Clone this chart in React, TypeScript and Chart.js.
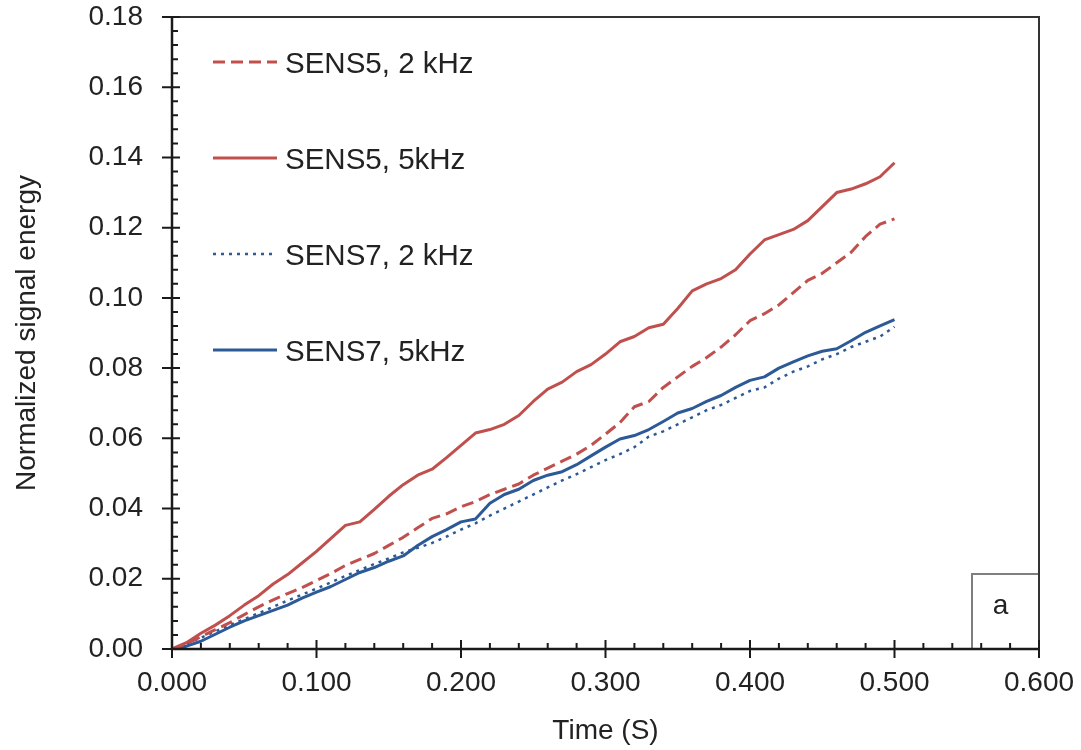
import React, { useEffect, useRef } from 'react';
import { Chart, registerables } from 'chart.js';

Chart.register(...registerables);

// ---------- data ----------
const timeS = [
  0, 0.01, 0.02, 0.03, 0.04, 0.05, 0.06, 0.07, 0.08, 0.09,
  0.1, 0.11, 0.12, 0.13, 0.14, 0.15, 0.16, 0.17, 0.18, 0.19,
  0.2, 0.21, 0.22, 0.23, 0.24, 0.25, 0.26, 0.27, 0.28, 0.29,
  0.3, 0.31, 0.32, 0.33, 0.34, 0.35, 0.36, 0.37, 0.38, 0.39,
  0.4, 0.41, 0.42, 0.43, 0.44, 0.45, 0.46, 0.47, 0.48, 0.49, 0.5,
];

const sens5_2kHz = [
  0, 0.0015, 0.0035, 0.0055, 0.0075, 0.0098, 0.012, 0.014, 0.0158, 0.0175,
  0.0195, 0.0215, 0.0238, 0.0255, 0.0272, 0.0295, 0.0318, 0.0345, 0.0372, 0.0385,
  0.0405, 0.042, 0.044, 0.0455, 0.047, 0.0495, 0.0515, 0.0535, 0.0555, 0.058,
  0.0612, 0.0645, 0.069, 0.0705, 0.0745, 0.0775, 0.0805, 0.083, 0.086, 0.0895,
  0.0935, 0.0955, 0.098, 0.1015, 0.105, 0.107, 0.11, 0.113, 0.1175, 0.121, 0.1225,
];

const sens5_5kHz = [
  0, 0.0018, 0.0045, 0.0068, 0.0095, 0.0125, 0.0152, 0.0185, 0.0212, 0.0245,
  0.0278, 0.0315, 0.0352, 0.0362, 0.0398, 0.0435, 0.0468, 0.0495, 0.0512, 0.0545,
  0.058, 0.0615, 0.0625, 0.064, 0.0665, 0.0705, 0.074, 0.076, 0.079, 0.081,
  0.084, 0.0875, 0.089, 0.0915, 0.0925, 0.097, 0.102, 0.104, 0.1055, 0.108,
  0.1125, 0.1165, 0.118, 0.1195, 0.122, 0.126, 0.13, 0.131, 0.1325, 0.1345, 0.1385,
];

const sens7_2kHz = [
  0, 0.0015, 0.0032, 0.005, 0.0068, 0.0085, 0.0102, 0.012, 0.0138, 0.0155,
  0.0172, 0.019, 0.0208, 0.0225, 0.0242, 0.0258, 0.0275, 0.0288, 0.0302, 0.032,
  0.034, 0.0358, 0.038, 0.04, 0.042, 0.044, 0.046, 0.048, 0.0498, 0.0518,
  0.0538, 0.0555, 0.0575, 0.0605, 0.062, 0.064, 0.066, 0.068, 0.0695, 0.0715,
  0.0735, 0.0745, 0.077, 0.079, 0.0805, 0.0825, 0.084, 0.086, 0.0875, 0.089, 0.0918,
];

const sens7_5kHz = [
  0, 0.0008, 0.0022, 0.0042, 0.0062, 0.008, 0.0095, 0.011, 0.0125, 0.0145,
  0.0162, 0.0178, 0.0198, 0.0218, 0.0232, 0.025, 0.0265, 0.0295, 0.032, 0.034,
  0.0362, 0.037, 0.0415, 0.044, 0.0455, 0.048, 0.0495, 0.0505, 0.0525, 0.055,
  0.0575, 0.0598, 0.0608, 0.0625, 0.0648, 0.0672, 0.0685, 0.0705, 0.0722, 0.0745,
  0.0765, 0.0775, 0.08, 0.0818, 0.0835, 0.0848, 0.0855, 0.0878, 0.0902, 0.092, 0.0938,
];

const seriesLabels = ['SENS5, 2 kHz', 'SENS5, 5kHz', 'SENS7, 2 kHz', 'SENS7, 5kHz'];
const xAxisTitle = 'Time (S)';
const yAxisTitle = 'Normalized signal energy';
const panelLabel = 'a';

const xRange = [0, 0.6];
const yRange = [0, 0.18];
const xStep = 0.1;
const yStep = 0.02;

// ---------- styles ----------
const FONT = "'Liberation Sans', Arial, Helvetica, sans-serif";
const TEXT = '#222222';
const RED = '#C0504D';
const BLUE = '#2C5A96';

const toPoints = (ys: number[]) => ys.map((y, i) => ({ x: timeS[i], y }));

const decorPlugin = {
  id: 'decor',
  afterDraw(chart: any) {
    const { ctx, chartArea: a, scales } = chart;
    const xs = scales.x;
    const ys = scales.y;
    ctx.save();

    // panel label box
    const bw = 67;
    const bh = 75;
    ctx.strokeStyle = '#7f7f7f';
    ctx.lineWidth = 2;
    ctx.strokeRect(a.right - bw, a.bottom - bh, bw, bh);
    ctx.fillStyle = TEXT;
    ctx.font = `28px ${FONT}`;
    ctx.textAlign = 'center';
    ctx.textBaseline = 'alphabetic';
    ctx.fillText(panelLabel, a.right - bw / 2 - 5, a.bottom - 35);

    // frame (top/right)
    ctx.strokeStyle = '#333333';
    ctx.lineWidth = 2;
    ctx.beginPath();
    ctx.moveTo(a.left, a.top);
    ctx.lineTo(a.right, a.top);
    ctx.lineTo(a.right, a.bottom);
    ctx.stroke();

    // axes (left/bottom)
    ctx.strokeStyle = '#1a1a1a';
    ctx.lineWidth = 2.5;
    ctx.beginPath();
    ctx.moveTo(a.left, a.top);
    ctx.lineTo(a.left, a.bottom);
    ctx.lineTo(a.right, a.bottom);
    ctx.stroke();

    // ticks
    ctx.lineWidth = 2;
    ctx.beginPath();
    const yMaj = ys.ticks.map((t: any) => t.value);
    yMaj.forEach((v: number, i: number) => {
      const p = ys.getPixelForValue(v);
      ctx.moveTo(a.left - 10, p);
      ctx.lineTo(a.left + 8, p);
      if (i < yMaj.length - 1) {
        const step = (yMaj[i + 1] - v) / 5;
        for (let k = 1; k < 5; k++) {
          const q = ys.getPixelForValue(v + step * k);
          ctx.moveTo(a.left, q);
          ctx.lineTo(a.left + 6, q);
        }
      }
    });
    const xMaj = xs.ticks.map((t: any) => t.value);
    xMaj.forEach((v: number, i: number) => {
      const p = xs.getPixelForValue(v);
      ctx.moveTo(p, a.bottom + 9);
      ctx.lineTo(p, a.bottom - 9);
      if (i < xMaj.length - 1) {
        const step = (xMaj[i + 1] - v) / 5;
        for (let k = 1; k < 5; k++) {
          const q = xs.getPixelForValue(v + step * k);
          ctx.moveTo(q, a.bottom);
          ctx.lineTo(q, a.bottom - 6);
        }
      }
    });
    ctx.stroke();

    // legend inside plot
    ctx.font = `29.5px ${FONT}`;
    ctx.textAlign = 'left';
    ctx.textBaseline = 'alphabetic';
    chart.data.datasets.forEach((ds: any, i: number) => {
      const cy = 62 + 96 * i;
      ctx.save();
      ctx.strokeStyle = ds.borderColor;
      ctx.lineWidth = ds.borderWidth;
      ctx.setLineDash(ds.borderDash || []);
      ctx.beginPath();
      ctx.moveTo(213, cy);
      ctx.lineTo(277, cy);
      ctx.stroke();
      ctx.restore();
      ctx.fillStyle = TEXT;
      ctx.fillText(ds.label, 285, cy + 10.5);
    });

    ctx.restore();
  },
};

export default function App() {
  const ref = useRef<HTMLCanvasElement | null>(null);

  useEffect(() => {
    if (!ref.current) return;
    const chart = new Chart(ref.current, {
      type: 'line',
      data: {
        datasets: [
          {
            label: seriesLabels[0],
            data: toPoints(sens5_2kHz),
            borderColor: RED,
            borderWidth: 3,
            borderDash: [12, 6],
            pointRadius: 0,
          },
          {
            label: seriesLabels[1],
            data: toPoints(sens5_5kHz),
            borderColor: RED,
            borderWidth: 3,
            pointRadius: 0,
          },
          {
            label: seriesLabels[2],
            data: toPoints(sens7_2kHz),
            borderColor: BLUE,
            borderWidth: 2.5,
            borderDash: [3, 5],
            pointRadius: 0,
          },
          {
            label: seriesLabels[3],
            data: toPoints(sens7_5kHz),
            borderColor: BLUE,
            borderWidth: 3,
            pointRadius: 0,
          },
        ],
      },
      options: {
        responsive: false,
        animation: false,
        layout: { padding: { top: 17, right: 42, bottom: 0, left: 0 } },
        plugins: { legend: { display: false }, tooltip: { enabled: false } },
        elements: { line: { tension: 0, borderJoinStyle: 'round' } },
        scales: {
          x: {
            type: 'linear',
            min: xRange[0],
            max: xRange[1],
            grid: { display: false, drawTicks: false },
            border: { display: false },
            ticks: {
              stepSize: xStep,
              padding: 17,
              color: TEXT,
              font: { family: FONT, size: 28 },
              maxRotation: 0,
              callback: (v: any) => Number(v).toFixed(3),
            },
            title: {
              display: true,
              text: xAxisTitle,
              color: TEXT,
              font: { family: FONT, size: 28 },
              padding: { top: 2, bottom: 2 },
            },
            afterFit: (s: any) => {
              s.height = 101;
              s.paddingLeft = 0;
              s.paddingRight = 0;
            },
          },
          y: {
            type: 'linear',
            min: yRange[0],
            max: yRange[1],
            grid: { display: false, drawTicks: false },
            border: { display: false },
            ticks: {
              stepSize: yStep,
              padding: 29,
              color: TEXT,
              font: { family: FONT, size: 28 },
              callback: (v: any) => Number(v).toFixed(2),
            },
            title: {
              display: true,
              text: yAxisTitle,
              color: TEXT,
              font: { family: FONT, size: 28 },
              padding: { top: 10, bottom: 10 },
            },
            afterFit: (s: any) => {
              s.width = 172;
              s.paddingTop = 0;
              s.paddingBottom = 0;
            },
          },
        },
      },
      plugins: [decorPlugin],
    });
    return () => chart.destroy();
  }, []);

  return (
    <div style={{ position: 'absolute', left: 0, top: 0, width: 1081, height: 750, background: '#ffffff' }}>
      <canvas ref={ref} width={1081} height={750} />
    </div>
  );
}
